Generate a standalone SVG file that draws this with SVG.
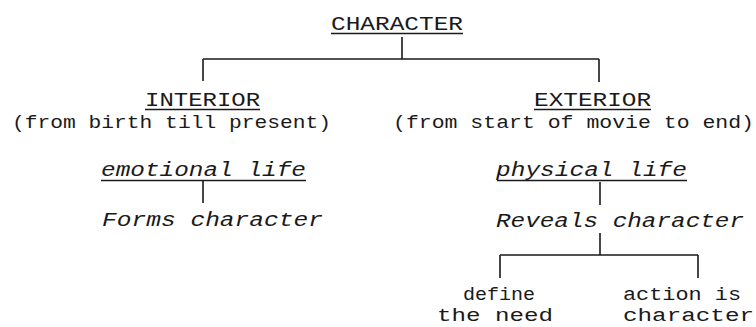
<svg xmlns="http://www.w3.org/2000/svg" width="756" height="327" viewBox="0 0 756 327">
<style>
text{font-family:"Liberation Mono","Courier New",monospace;fill:#1a1a1a;font-size:20px}
.it{font-style:italic}
.sm{font-size:18.5px}
.bt{font-size:18px}
.ln{stroke:#1a1a1a;stroke-width:1.6;fill:none}
</style>
<rect width="756" height="327" fill="#ffffff"/>
<g id="connectors" class="ln">
<path d="M402 37V59M203 59H599M203 59V81M599 59V82"/>
<path d="M203 181V203"/>
<path d="M600 182V205M600 233V255M500 255H698M500 255V278M698 255V278"/>
</g>
<g id="character"><text x="331" y="30" textLength="132" lengthAdjust="spacingAndGlyphs">CHARACTER</text><path class="ln" d="M331 33.5H463"/></g>
<g id="interior"><text x="145" y="106" textLength="115" lengthAdjust="spacingAndGlyphs">INTERIOR</text><path class="ln" d="M145 109.5H260"/><text class="sm" x="12" y="128" textLength="319" lengthAdjust="spacingAndGlyphs">(from birth till present)</text></g>
<g id="exterior"><text x="534" y="106" textLength="117" lengthAdjust="spacingAndGlyphs">EXTERIOR</text><path class="ln" d="M534 109.5H651"/><text class="sm" x="393" y="128" textLength="361" lengthAdjust="spacingAndGlyphs">(from start of movie to end)</text></g>
<g id="emotional"><text class="it" x="101" y="176" textLength="205" lengthAdjust="spacingAndGlyphs">emotional life</text><path class="ln" d="M101 180.5H306"/></g>
<g id="forms"><text class="it" x="102" y="226" textLength="221" lengthAdjust="spacingAndGlyphs">Forms character</text></g>
<g id="physical"><text class="it" x="496" y="176" textLength="191" lengthAdjust="spacingAndGlyphs">physical life</text><path class="ln" d="M497 180.5H687"/></g>
<g id="reveals"><text class="it" x="496" y="227" textLength="248" lengthAdjust="spacingAndGlyphs">Reveals character</text></g>
<g id="define"><text class="bt" x="463" y="300" textLength="72" lengthAdjust="spacingAndGlyphs">define</text><text class="bt" x="437" y="321" textLength="116" lengthAdjust="spacingAndGlyphs">the need</text></g>
<g id="action"><text class="bt" x="623" y="300" textLength="118" lengthAdjust="spacingAndGlyphs">action is</text><text class="bt" x="623" y="321" textLength="131" lengthAdjust="spacingAndGlyphs">character</text></g>
</svg>
